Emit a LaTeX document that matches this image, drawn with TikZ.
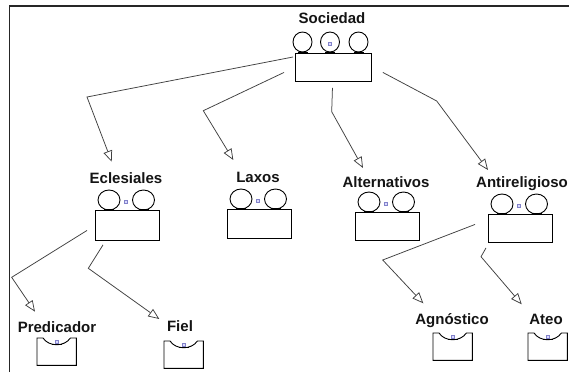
\documentclass[tikz,border=0pt]{standalone}
\usepackage{fontspec}
\setmainfont{Liberation Sans}
\usetikzlibrary{arrows.meta,calc}

\tikzset{
  lbl/.style={font=\bfseries\fontsize{15}{15}\selectfont, text=black!92,
    anchor=base, inner sep=0pt},
  holder/.style={draw=black, line width=0.9pt, inner sep=0pt,
    minimum width=64pt, minimum height=29pt, anchor=north west},
  cupframe/.style={inner sep=0pt, minimum width=39pt, minimum height=27pt,
    anchor=north west},
  ring/.style={draw=black, line width=0.9pt, fill=white},
  seat/.style={line width=2.2pt, black},
  dotsq/.style={draw=blue!40!gray!70, fill=blue!15, line width=0.4pt,
    inner sep=0pt, minimum size=3pt},
  conn/.style={draw=black!75, line width=0.75pt,
    -{Triangle[open, length=11pt, width=9pt, line width=0.75pt]}},
}

% box with two rings sitting on its top edge
\newcommand\pairbox[4]{%
  \node[holder, minimum height=#4pt] (#1) at (#2,#3) {};
  \draw[ring] ($(#1.north west)+(14,-10)$) ellipse [x radius=11pt, y radius=10pt];
  \draw[ring] ($(#1.north west)+(48.5,-10)$) ellipse [x radius=11pt, y radius=10pt];
  \draw[seat] ($(#1.north west)+(9,0)$) -- ++(10,0);
  \draw[seat] ($(#1.north west)+(43.5,0)$) -- ++(10,0);
  \node[dotsq] at ($(#1.north west)+(31,-8)$) {};
}

% open cup: box whose top edge dips in the middle
\newcommand\cupbox[3]{%
  \node[cupframe] (#1) at (#2,#3) {};
  \draw[black, line width=0.9pt]
    (#1.north west) -- ++(6,0)
    .. controls ++(6,9) and ($(#1.north east)+(-12,9)$) .. ($(#1.north east)+(-6,0)$)
    -- (#1.north east) -- (#1.south east) -- (#1.south west) -- cycle;
  \draw[black, line width=1.4pt] ($(#1.north)+(-5,6.4)$) -- ($(#1.north)+(5,6.4)$);
  \node[dotsq] at ($(#1.north)+(0,3.5)$) {};
}

\begin{document}
\begin{tikzpicture}[x=1pt, y=-1pt]
  \useasboundingbox (0,0) rectangle (569,372);
  \fill[white] (0,0) rectangle (569,372);

  % window frame
  \draw[black!85, line width=1.6pt] (9.5,372) -- (9.5,6) -- (569,6);

  % root
  \node[lbl] (soc) at (332,23) {Sociedad};
  \node[holder, minimum width=76pt, minimum height=28pt] (socb) at (295,53) {};
  \foreach \cx in {302.5,330,358.5}{
    \draw[ring] (\cx,42) ellipse [x radius=9.5pt, y radius=10pt];
    \draw[seat] (\cx-5,53) -- (\cx+5,53);
  }
  \node[dotsq] at (330,44) {};

  % second level
  \node[lbl] (ecl) at (126,183) {Eclesiales};
  \pairbox{eclb}{95}{210}{30}
  \node[lbl] (lax) at (258,182) {Laxos};
  \pairbox{laxb}{227}{209}{29}
  \node[lbl] (alt) at (386,187) {Alternativos};
  \pairbox{altb}{355}{212}{28}
  \node[lbl] (anti) at (522,187) {Antireligioso};
  \pairbox{antib}{488}{214}{28}

  % leaves
  \node[lbl] (pred) at (57,332) {Predicador};
  \cupbox{predb}{37}{338}
  \node[lbl] (fiel) at (180,331) {Fiel};
  \cupbox{fielb}{164}{341}
  \node[lbl] (agn) at (452,324) {Agnóstico};
  \cupbox{agnb}{433}{333}
  \node[lbl] (ateo) at (546,324) {Ateo};
  \cupbox{ateob}{528}{333}

  % bends and arrow tips
  \coordinate (k1) at (87,97);    \coordinate (t1) at (111.7,161.7);
  \coordinate (k2) at (203.3,110.7); \coordinate (t2) at (233.3,160);
  \coordinate (k3) at (331.7,111.7); \coordinate (t3) at (363,168);
  \coordinate (k4) at (436.7,101); \coordinate (t4) at (488,170);
  \coordinate (k5) at (11.7,277.3); \coordinate (t5) at (35,311.7);
  \coordinate (k6) at (88.3,268.3); \coordinate (t6) at (159.3,319);
  \coordinate (k7) at (382.7,260); \coordinate (t7) at (423.3,303.3);
  \coordinate (k8) at (481,256.7); \coordinate (t8) at (521.7,304.3);

  % connectors
  \draw[conn] ($(socb.north west)+(-2,4)$) -- (k1) -- (t1);
  \draw[conn] ($(socb.west)+(-11,5)$) -- (k2) -- (t2);
  \draw[conn] ($(socb.south)+(-1,6)$) -- (k3) -- (t3);
  \draw[conn] ($(socb.east)+(11,5)$) -- (k4) -- (t4);
  \draw[conn] ($(eclb.west)+(-8,5)$) -- (k5) -- (t5);
  \draw[conn] ($(eclb.south west)+(8,4)$) -- (k6) -- (t6);
  \draw[conn] ($(antib.west)+(-13,-4)$) -- (k7) -- (t7);
  \draw[conn] ($(antib.south west)+(-2,5)$) -- (k8) -- (t8);
\end{tikzpicture}
\end{document}
